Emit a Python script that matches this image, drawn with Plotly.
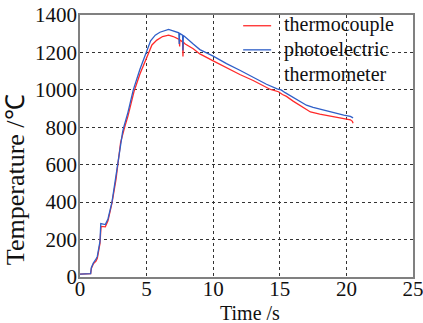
import plotly.graph_objects as go

# Thermocouple (red)
tc_time = [0, 0.8, 0.85, 1.0, 1.2, 1.3, 1.5, 1.58, 1.9, 2.1, 2.4, 2.7, 3.05, 3.25, 3.35, 3.6,
           4.05, 4.5, 5.15, 5.4, 5.77, 6.2, 6.65, 7.0, 7.45, 7.48, 7.5, 7.7, 7.73, 7.76, 7.9,
           8.5, 9.0, 10.0, 11.0, 12.0, 13.0, 14.3, 14.9, 15.2, 15.5, 16.0, 17.3, 18.0, 19.0,
           19.8, 20.3, 20.45, 20.5]
tc_temp = [15, 18, 45, 70, 85, 100, 180, 270, 268, 300, 395, 520, 720, 785, 800, 860,
           990, 1085, 1200, 1240, 1266, 1285, 1292, 1285, 1270, 1232, 1268, 1255, 1178, 1255, 1245,
           1220, 1192, 1155, 1118, 1082, 1050, 1002, 990, 975, 965, 940, 882, 870, 857,
           847, 840, 832, 822]

# Photoelectric thermometer (blue)
pe_time = [0, 0.8, 0.85, 1.0, 1.2, 1.3, 1.5, 1.56, 1.9, 2.1, 2.4, 2.65, 3.0, 3.2, 3.3, 3.6,
           4.0, 4.5, 5.0, 5.3, 5.65, 6.0, 6.65, 7.0, 7.42, 7.45, 7.48, 7.7, 7.73, 7.76, 7.9,
           8.5, 9.0, 10.0, 11.0, 12.0, 13.0, 14.0, 14.8, 15.1, 15.4, 16.0, 17.0, 17.5, 18.0,
           19.0, 19.8, 20.3, 20.5]
pe_temp = [15, 18, 50, 75, 95, 110, 190, 285, 280, 310, 400, 515, 700, 775, 805, 880,
           1000, 1110, 1205, 1262, 1292, 1308, 1323, 1315, 1305, 1245, 1302, 1292, 1210, 1290, 1283,
           1245, 1215, 1180, 1140, 1105, 1068, 1030, 1005, 1000, 985, 960, 918, 907, 897,
           880, 865, 858, 850]

series_names = ["thermocouple", "photoelectric thermometer"]
series_colors = ["#ff2a2a", "#2f5fc8"]
legend_lines = [["thermocouple"], ["photoelectric", "thermometer"]]

x_ticks = [0, 5, 10, 15, 20, 25]
y_ticks = [0, 200, 400, 600, 800, 1000, 1200, 1400]

FONT = "Liberation Serif, serif"
TXT = "#111111"

fig = go.Figure()
fig.add_trace(go.Scatter(x=tc_time, y=tc_temp, mode="lines", name=series_names[0],
                         line=dict(color=series_colors[0], width=1.3)))
fig.add_trace(go.Scatter(x=pe_time, y=pe_temp, mode="lines", name=series_names[1],
                         line=dict(color=series_colors[1], width=1.3)))

axis_common = dict(showgrid=True, gridcolor="#333333", griddash="dot", gridwidth=1,
                   showline=True, linecolor="#808080", linewidth=1.5, mirror=True,
                   ticks="", zeroline=False, automargin=False, ticklabeloverflow="allow",
                   tickfont=dict(family=FONT, size=21, color=TXT))

fig.update_xaxes(range=[0, 25], tickvals=x_ticks, ticktext=[str(v) for v in x_ticks],
                 ticklabelstandoff=-8, **axis_common)
fig.update_yaxes(range=[0, 1400], tickvals=y_ticks, ticktext=[str(v) for v in y_ticks],
                 ticklabelstandoff=-3, **axis_common)

# axis titles
fig.add_annotation(text="Time /s", xref="paper", yref="paper",
                   x=0.511, y=-0.137, xanchor="center", yanchor="middle", showarrow=False,
                   font=dict(family=FONT, size=20, color=TXT))
fig.add_annotation(text="Temperature /℃", textangle=-90, xref="paper", yref="paper",
                   x=-0.195, y=0.37, xanchor="center", yanchor="middle", showarrow=False,
                   font=dict(family=FONT, size=26, color=TXT))

# legend box (white patch between grid and traces), samples and labels
fig.add_shape(type="rect", xref="paper", yref="paper", x0=0.468, x1=0.997, y0=0.82, y1=0.997,
              fillcolor="white", line=dict(width=0), layer="between")
sample_y = [0.959, 0.867]
label_y = [[0.962], [0.868, 0.775]]
for col, sy, lines, ly in zip(series_colors, sample_y, legend_lines, label_y):
    fig.add_shape(type="line", xref="paper", yref="paper", x0=0.490, x1=0.574, y0=sy, y1=sy,
                  line=dict(color=col, width=1.3))
    for txt, yy in zip(lines, ly):
        fig.add_annotation(text=txt, xref="paper", yref="paper", x=0.607, y=yy,
                           xanchor="left", yanchor="middle", showarrow=False,
                           font=dict(family=FONT, size=20, color=TXT))

fig.update_layout(
    width=423, height=323,
    margin=dict(l=80, r=10, t=15, b=46),
    paper_bgcolor="white", plot_bgcolor="white",
    showlegend=False,
)

fig.write_html("out.html")
